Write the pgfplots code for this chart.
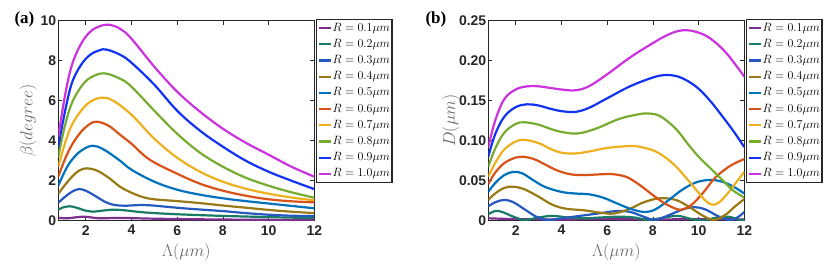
\documentclass[border=0pt]{standalone}
\usepackage{fontspec}
\setmainfont{Liberation Sans}
\newfontfamily\panelfont{Liberation Serif}
\usepackage{pgfplots}
\pgfplotsset{compat=1.18}

\definecolor{cA}{rgb}{0.49,0.18,0.56}
\definecolor{cB}{rgb}{0.10,0.48,0.40}
\definecolor{cC}{rgb}{0.15,0.35,0.75}
\definecolor{cD}{rgb}{0.60,0.48,0.08}
\definecolor{cE}{rgb}{0.00,0.447,0.741}
\definecolor{cF}{rgb}{0.85,0.325,0.098}
\definecolor{cG}{rgb}{0.929,0.694,0.125}
\definecolor{cH}{rgb}{0.466,0.674,0.188}
\definecolor{cI}{rgb}{0.07,0.20,0.95}
\definecolor{cJ}{rgb}{0.80,0.20,0.87}
\definecolor{axgray}{rgb}{0.15,0.15,0.15}

\pgfplotsset{
  panel/.style={
    width=256pt, height=200pt, scale only axis,
    xmin=0.8, xmax=12, xtick={2,4,...,12},
    axis line style={axgray, line width=0.9pt},
    tick style={axgray, line width=0.7pt},
    tick align=inside, major tick length=4pt,
    ticklabel style={font=\fontsize{14}{14}\selectfont\bfseries, text=axgray},
    /pgf/number format/assume math mode=true,
    xticklabel style={yshift=-1pt},
    yticklabel style={xshift=1.5pt},
    xlabel={$\Lambda(\mu m)$},
    every axis x label/.style={at={(axis description cs:0.5,0)}, anchor=center, yshift=-31pt,
      font=\fontsize{16}{16}\selectfont, text=black!60},
    legend cell align=left,
    legend style={at={(1.006,1.009)}, anchor=north west,
      font=\fontsize{12.5}{13}\selectfont, draw=axgray, line width=1.1pt,
      inner sep=1.5pt, row sep=2pt,
      nodes={inner sep=0.6pt, text height=9.5pt, text depth=3.5pt}},
    legend image code/.code={\draw[##1, line width=2.2pt] (0pt,0pt) -- (12pt,0pt);},
    every axis plot/.append style={line width=2.2pt, smooth, tension=0.6},
  }
}

\begin{document}
\begin{tikzpicture}
\useasboundingbox (0,0) rectangle (831pt,263pt);

\node[anchor=base west, font=\panelfont\bfseries\fontsize{17}{17}\selectfont] at (11pt,239.5pt) {(a)};
\node[anchor=base west, font=\panelfont\bfseries\fontsize{17}{17}\selectfont] at (422pt,239.5pt) {(b)};

% ---------- (a) beta ----------
\begin{axis}[panel, at={(58.3pt,42.3pt)}, anchor=south west,
  ymin=0, ymax=10, ytick={0,2,...,10},
  ylabel={$\beta(degree)$},
  every axis y label/.style={at={(axis description cs:-0.118,0.5)}, rotate=90, anchor=center,
    font=\fontsize{16}{16}\selectfont, text=black!60}]
\addplot[cA] coordinates {(0.8,0.15) (1.2,0.12) (1.9,0.2) (2.6,0.12) (3.5,0.14) (5,0.1) (7,0.07) (9,0.05) (12,0.03)};
\addlegendentry{$R = 0.1\mu m$}
\addplot[cB] coordinates {(0.8,0.55) (1.0,0.66) (1.3,0.72) (1.6,0.65) (2.0,0.5) (2.3,0.45) (2.7,0.5) (3.2,0.55) (3.7,0.52) (4.5,0.42) (5.5,0.35) (6.5,0.3) (8,0.24) (10,0.18) (12,0.13)};
\addlegendentry{$R = 0.2\mu m$}
\addplot[cC] coordinates {(0.8,0.9) (1.1,1.2) (1.4,1.45) (1.7,1.58) (2.0,1.5) (2.4,1.25) (2.8,0.97) (3.2,0.8) (3.7,0.75) (4.3,0.78) (4.8,0.77) (5.5,0.7) (6.5,0.6) (8,0.48) (9,0.38) (10,0.3) (11,0.25) (12,0.23)};
\addlegendentry{$R = 0.3\mu m$}
\addplot[cD] coordinates {(0.8,1.35) (1.1,1.8) (1.4,2.2) (1.7,2.5) (2.05,2.62) (2.5,2.5) (3,2.15) (3.5,1.7) (4,1.4) (4.5,1.18) (5,1.07) (6,0.98) (7,0.88) (8,0.76) (9,0.65) (10,0.54) (11,0.45) (12,0.38)};
\addlegendentry{$R = 0.4\mu m$}
\addplot[cE] coordinates {(0.8,1.75) (1.1,2.5) (1.4,3.05) (1.8,3.5) (2.3,3.75) (2.8,3.55) (3.5,3.0) (4,2.55) (5,1.95) (6,1.55) (7,1.3) (8,1.12) (9,0.98) (10,0.86) (11,0.74) (12,0.62)};
\addlegendentry{$R = 0.5\mu m$}
\addplot[cF] coordinates {(0.8,2.2) (1.1,3.1) (1.4,3.8) (1.8,4.45) (2.2,4.85) (2.5,4.95) (3.0,4.75) (3.5,4.3) (4,3.85) (4.8,3.05) (6,2.35) (7,1.85) (8,1.5) (9,1.25) (10,1.07) (11,0.97) (12,0.92)};
\addlegendentry{$R = 0.6\mu m$}
\addplot[cG] coordinates {(0.8,2.7) (1.1,3.9) (1.4,4.8) (1.8,5.5) (2.2,5.95) (2.7,6.15) (3.2,6.0) (4,5.3) (5,4.1) (6,3.15) (7,2.45) (8,1.95) (9,1.6) (10,1.35) (11,1.16) (12,1.02)};
\addlegendentry{$R = 0.7\mu m$}
\addplot[cH] coordinates {(0.8,3.2) (1.1,4.8) (1.4,5.9) (1.8,6.7) (2.2,7.15) (2.8,7.37) (3.5,7.1) (4,6.7) (5,5.5) (6,4.35) (7,3.4) (8,2.7) (9,2.15) (10,1.75) (11,1.42) (12,1.15)};
\addlegendentry{$R = 0.8\mu m$}
\addplot[cI] coordinates {(0.8,3.7) (1.1,5.5) (1.4,6.9) (1.8,7.8) (2.2,8.3) (2.6,8.52) (2.9,8.56) (3.5,8.3) (4,7.9) (5,6.8) (6,5.5) (7,4.5) (8,3.7) (9,3.0) (10,2.45) (11,2.0) (12,1.58)};
\addlegendentry{$R = 0.9\mu m$}
\addplot[cJ] coordinates {(0.8,4.2) (1.1,6.3) (1.4,7.8) (1.8,8.85) (2.2,9.45) (2.6,9.72) (3.0,9.8) (3.5,9.6) (4,9.1) (5,7.7) (6,6.45) (7,5.45) (8,4.6) (9,3.9) (10,3.3) (11,2.7) (12,2.2)};
\addlegendentry{$R = 1.0\mu m$}
\end{axis}

% ---------- (b) D ----------
\begin{axis}[panel, at={(488.3pt,42.3pt)}, anchor=south west,
  ymin=0, ymax=0.25, ytick={0,0.05,0.10,0.15,0.20,0.25},
  yticklabels={0,0.05,0.10,0.15,0.20,0.25},
  ylabel={$D(\mu m)$},
  every axis y label/.style={at={(axis description cs:-0.146,0.5)}, rotate=90, anchor=center,
    font=\fontsize{16}{16}\selectfont, text=black!60}]
\addplot[cA] coordinates {(0.8,0.003) (2,0.002) (4,0.0015) (6,0.002) (8,0.0015) (10,0.002) (12,0.0015)};
\addlegendentry{$R = 0.1\mu m$}
\addplot[cB] coordinates {(0.8,0.008) (1.1,0.012) (1.4,0.011) (1.9,0.005) (2.4,0.001) (3.0,0.004) (3.6,0.006) (4.3,0.004) (5.0,0.003) (5.7,0.004) (6.5,0.005) (7.2,0.004) (7.8,0.001) (8.5,0.004) (9.1,0.006) (9.7,0.002) (10.2,0.0005) (10.8,0.004) (11.3,0.005) (11.8,0.001) (12,0.0005)};
\addlegendentry{$R = 0.2\mu m$}
\addplot[cC] coordinates {(0.8,0.018) (1.1,0.023) (1.5,0.026) (1.9,0.023) (2.4,0.014) (2.9,0.005) (3.4,0.001) (4.0,0.003) (4.8,0.006) (5.6,0.009) (6.4,0.012) (7.0,0.011) (7.6,0.005) (8.1,0.001) (8.7,0.007) (9.3,0.014) (9.8,0.017) (10.3,0.014) (10.9,0.005) (11.4,0.0005) (11.8,0.006) (12,0.011)};
\addlegendentry{$R = 0.3\mu m$}
\addplot[cD] coordinates {(0.8,0.026) (1.1,0.034) (1.5,0.041) (1.9,0.0425) (2.4,0.039) (3.0,0.03) (3.6,0.02) (4.2,0.015) (5.0,0.013) (5.7,0.01) (6.3,0.009) (7.0,0.015) (7.6,0.023) (8.3,0.028) (9.0,0.026) (9.6,0.017) (10.2,0.006) (10.7,0.001) (11.2,0.008) (11.6,0.018) (12,0.027)};
\addlegendentry{$R = 0.4\mu m$}
\addplot[cE] coordinates {(0.8,0.036) (1.1,0.047) (1.5,0.057) (1.9,0.061) (2.3,0.059) (2.8,0.05) (3.3,0.042) (4.0,0.036) (4.6,0.034) (5.2,0.033) (5.8,0.029) (6.4,0.022) (7.0,0.015) (7.6,0.011) (8.1,0.014) (8.7,0.026) (9.3,0.039) (9.9,0.048) (10.5,0.051) (11.0,0.049) (11.5,0.043) (12,0.034)};
\addlegendentry{$R = 0.5\mu m$}
\addplot[cF] coordinates {(0.8,0.046) (1.1,0.06) (1.5,0.072) (2.0,0.079) (2.3,0.08) (2.8,0.077) (3.3,0.07) (3.8,0.063) (4.4,0.058) (5.0,0.057) (5.7,0.058) (6.3,0.058) (6.9,0.054) (7.5,0.043) (8.0,0.032) (8.5,0.022) (9.0,0.015) (9.3,0.014) (9.7,0.02) (10.2,0.035) (10.7,0.053) (11.2,0.065) (11.6,0.072) (12,0.077)};
\addlegendentry{$R = 0.6\mu m$}
\addplot[cG] coordinates {(0.8,0.055) (1.1,0.072) (1.5,0.089) (2.0,0.099) (2.4,0.101) (3.0,0.097) (3.5,0.09) (4.0,0.085) (4.6,0.084) (5.3,0.087) (6.0,0.091) (6.8,0.093) (7.3,0.093) (8.0,0.088) (8.5,0.08) (9.0,0.068) (9.5,0.052) (10.0,0.035) (10.3,0.025) (10.6,0.02) (10.9,0.023) (11.3,0.035) (11.7,0.05) (12,0.061)};
\addlegendentry{$R = 0.7\mu m$}
\addplot[cH] coordinates {(0.8,0.0675) (1.1,0.09) (1.5,0.11) (2.0,0.121) (2.4,0.123) (3.0,0.12) (3.5,0.115) (4.0,0.111) (4.7,0.109) (5.5,0.115) (6.5,0.127) (7.2,0.132) (7.7,0.134) (8.3,0.131) (9.0,0.115) (9.5,0.097) (10.0,0.08) (10.5,0.066) (11.0,0.052) (11.5,0.038) (12,0.029)};
\addlegendentry{$R = 0.8\mu m$}
\addplot[cI] coordinates {(0.8,0.08) (1.1,0.108) (1.5,0.13) (2.0,0.142) (2.5,0.1455) (3.0,0.144) (3.5,0.14) (4.0,0.137) (4.6,0.136) (5.2,0.141) (6.0,0.153) (7.0,0.168) (8.0,0.179) (8.5,0.182) (9.0,0.181) (9.5,0.175) (10.0,0.165) (10.5,0.15) (11.0,0.132) (11.5,0.113) (12,0.092)};
\addlegendentry{$R = 0.9\mu m$}
\addplot[cJ] coordinates {(0.8,0.092) (1.1,0.125) (1.5,0.152) (2.0,0.164) (2.5,0.168) (3.0,0.168) (3.5,0.166) (4.0,0.164) (4.6,0.163) (5.2,0.168) (6.0,0.183) (7.0,0.204) (8.0,0.222) (8.7,0.233) (9.3,0.238) (9.9,0.236) (10.5,0.228) (11.2,0.21) (12,0.18)};
\addlegendentry{$R = 1.0\mu m$}
\end{axis}
\end{tikzpicture}
\end{document}
